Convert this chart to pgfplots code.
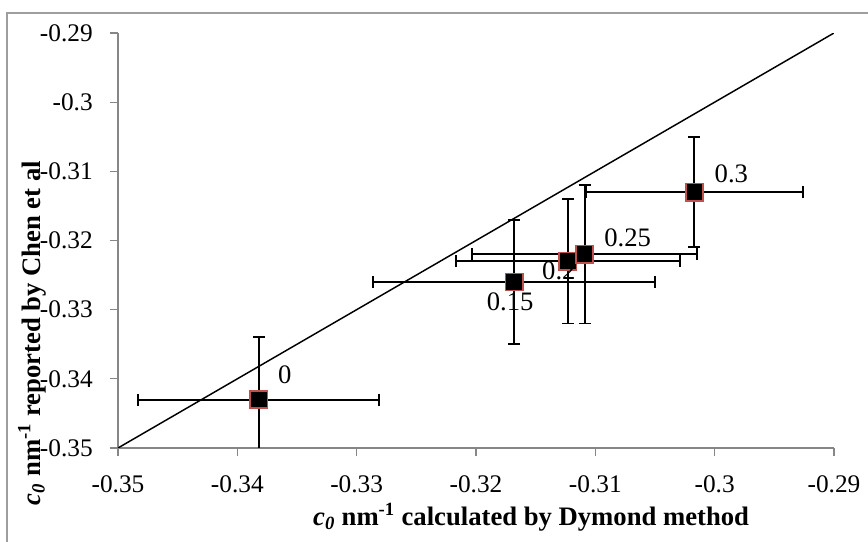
\documentclass[border=0pt]{standalone}
\usepackage{pgfplots}
\pgfplotsset{compat=1.18}
\usepackage{pgfplotstable}
\usepackage{fontspec}
\setmainfont{Liberation Serif}

\definecolor{axisgray}{HTML}{868686}
\definecolor{markred}{HTML}{C0504D}

% x y ex ey label dx dy  (offsets of the point labels, pt)
\pgfplotstableread{
x       y      ex      ey     lab   dx     dy
-0.3382 -0.343 0.0101  0.009  0     19.5   18.75
-0.3168 -0.326 0.0118  0.009  0.15  -3     -15
-0.3123 -0.323 0.0094  0.009  0.2   -6.75  -7.5
-0.3109 -0.322 0.0094  0.010  0.25  32.25  12.75
-0.3017 -0.313 0.0091  0.008  0.3   27.75  13.5
}\chendata

\begin{document}
\begin{tikzpicture}
  \path[use as bounding box] (0,0) rectangle (651pt,406.5pt);
  \draw[axisgray!80, line width=1pt] (5.25pt,-10pt) rectangle (670pt,396.75pt);
  \begin{axis}[
    at={(88.5pt,70.5pt)}, anchor=south west,
    scale only axis, width=537pt, height=311.25pt,
    xmin=-0.35, xmax=-0.29, ymin=-0.35, ymax=-0.29,
    xtick={-0.35,-0.34,-0.33,-0.32,-0.31,-0.3,-0.29},
    xticklabels={-0.35,-0.34,-0.33,-0.32,-0.31,-0.3,-0.29},
    ytick={-0.35,-0.34,-0.33,-0.32,-0.31,-0.3,-0.29},
    yticklabels={-0.35,-0.34,-0.33,-0.32,-0.31,-0.3,-0.29},
    axis lines*=left,
    axis line style={axisgray, line width=1pt},
    tick style={axisgray, line width=1pt},
    tick align=outside, major tick length=6pt,
    tick label style={font=\fontsize{19}{21}\selectfont, inner sep=0pt},
    yticklabel style={anchor=east, xshift=-12.75pt},
    xticklabel style={anchor=north, yshift=-14.5pt},
    xlabel={\textbf{\textit{c}\textsubscript{\textit{0}} nm\textsuperscript{-1} calculated by Dymond method}},
    ylabel={\textbf{\textit{c}\textsubscript{\textit{0}} nm\textsuperscript{-1} reported by Chen et al}},
    label style={font=\fontsize{20}{22}\selectfont},
    xlabel style={at={(axis description cs:0.577,-0.166)}, anchor=center},
    ylabel style={at={(axis description cs:-0.12,0.277)}, anchor=center},
  ]
    \addplot[black, line width=1.1pt, no marks] coordinates {(-0.35,-0.35) (-0.29,-0.29)};
    \addplot[
      only marks, mark=square*,
      mark options={fill=black, draw=markred, line width=1.2pt},
      mark size=6.5pt,
      error bars/.cd,
        x dir=both, x explicit, y dir=both, y explicit,
        error bar style={black, line width=1.4pt},
        error mark options={black, line width=1.4pt, mark size=4.5pt, rotate=90},
    ] table[x=x, y=y, x error=ex, y error=ey] {\chendata};
    \addplot[
      only marks, mark=none,
      point meta=explicit symbolic,
      visualization depends on={\thisrow{dx} \as \dx},
      visualization depends on={\thisrow{dy} \as \dy},
      nodes near coords,
      nodes near coords style={anchor=center, xshift=\dx pt, yshift=\dy pt,
        font=\fontsize{20}{22}\selectfont, text=black},
    ] table[x=x, y=y, meta=lab] {\chendata};
  \end{axis}
\end{tikzpicture}
\end{document}
